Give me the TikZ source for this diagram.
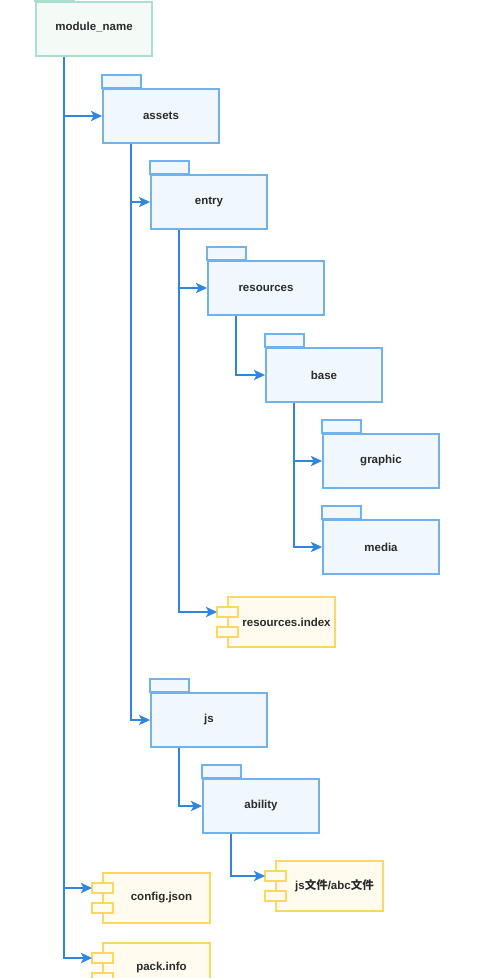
\documentclass[tikz,border=0pt]{standalone}
\usepackage{fontspec}
\setmainfont{Liberation Sans}
\newfontfamily\cjk{Noto Sans CJK SC Bold}
\usetikzlibrary{arrows.meta,calc}
\definecolor{linkblue}{HTML}{2E86DE}
\definecolor{folderline}{HTML}{72B2EC}
\definecolor{folderfill}{HTML}{F0F7FD}
\definecolor{modline}{HTML}{A9DFD1}
\definecolor{modfill}{HTML}{F4FAF5}
\definecolor{compline}{HTML}{FFD660}
\definecolor{compfill}{HTML}{FFFBEF}
\definecolor{txt}{HTML}{2B2B2B}
\tikzset{
  folder/.style={draw=folderline, fill=folderfill, line width=1.8pt, minimum width=116pt, minimum height=54pt, inner sep=0pt, text=txt, font=\fontsize{11.5}{13}\selectfont\bfseries},
  tabst/.style={draw=folderline, fill=folderfill, line width=1.8pt},
  modbox/.style={folder, draw=modline, fill=modfill},
  modtab/.style={tabst, draw=modline, fill=modfill},
  comp/.style={draw=compline, fill=compfill, line width=1.8pt, minimum width=107pt, minimum height=50pt, inner sep=0pt, text=txt, font=\fontsize{11.5}{13}\selectfont\bfseries},
  plugst/.style={draw=compline, fill=compfill, line width=1.8pt},
  link/.style={draw=linkblue, line width=2.2pt, -{Stealth[length=11pt,width=10pt,inset=2.5pt]}},
}
\newcommand\foldertab[2][tabst]{\draw[#1] (#2.north west) rectangle ++(39,13);}
\newcommand\complugs[1]{%
  \draw[plugst] ($(#1.west)+(-10,5)$) rectangle ++(21,10);
  \draw[plugst] ($(#1.west)+(-10,-15)$) rectangle ++(21,10);}
\newcommand\ctext[2]{\node[text=txt, font=\fontsize{11.5}{13}\selectfont\bfseries] at ($(#1.center)+(5,0)$) {#2};}
\begin{document}
\begin{tikzpicture}[x=1pt,y=1pt]
\useasboundingbox (0,0) rectangle (489,-978);
% folders
\node[modbox] (mod) at (94,-29) {};
\foldertab[modtab]{mod}
\node[modbox, draw=none, fill=none] at (94,-27) {module\_name};
\node[folder] (assets) at (161,-116) {assets};
\foldertab{assets}
\node[folder] (entry) at (209,-202) {entry};
\foldertab{entry}
\node[folder] (res) at (266,-288) {resources};
\foldertab{res}
\node[folder] (base) at (324,-375) {base};
\foldertab{base}
\node[folder] (graphic) at (381,-461) {graphic};
\foldertab{graphic}
\node[folder] (media) at (381,-547) {media};
\foldertab{media}
\node[folder] (js) at (209,-720) {js};
\foldertab{js}
\node[folder] (ability) at (261,-806) {ability};
\foldertab{ability}
% components
\node[comp] (residx) at (281.5,-622) {};
\complugs{residx}
\ctext{residx}{resources.index}
\node[comp] (config) at (156.5,-898) {};
\complugs{config}
\ctext{config}{config.json}
\node[comp] (jsfile) at (329.5,-886) {};
\complugs{jsfile}
\ctext{jsfile}{js{\cjk 文件}/abc{\cjk 文件}}
\node[comp] (pack) at (156.5,-968) {};
\complugs{pack}
\ctext{pack}{pack.info}
% links
\draw[link] ($(mod.south west)+(29,0)$) |- (assets.west);
\draw[link] ($(mod.south west)+(29,0)$) |- ($(config.west)+(-10,10)$);
\draw[link] ($(mod.south west)+(29,0)$) |- ($(pack.west)+(-10,10)$);
\draw[link] ($(assets.south west)+(29,0)$) |- (entry.west);
\draw[link] ($(assets.south west)+(29,0)$) |- (js.west);
\draw[link] ($(entry.south west)+(29,0)$) |- (res.west);
\draw[link] ($(entry.south west)+(29,0)$) |- ($(residx.west)+(-10,10)$);
\draw[link] ($(res.south west)+(29,0)$) |- (base.west);
\draw[link] ($(base.south west)+(29,0)$) |- (graphic.west);
\draw[link] ($(base.south west)+(29,0)$) |- (media.west);
\draw[link] ($(js.south west)+(29,0)$) |- (ability.west);
\draw[link] ($(ability.south west)+(29,0)$) |- ($(jsfile.west)+(-10,10)$);
\end{tikzpicture}
\end{document}
